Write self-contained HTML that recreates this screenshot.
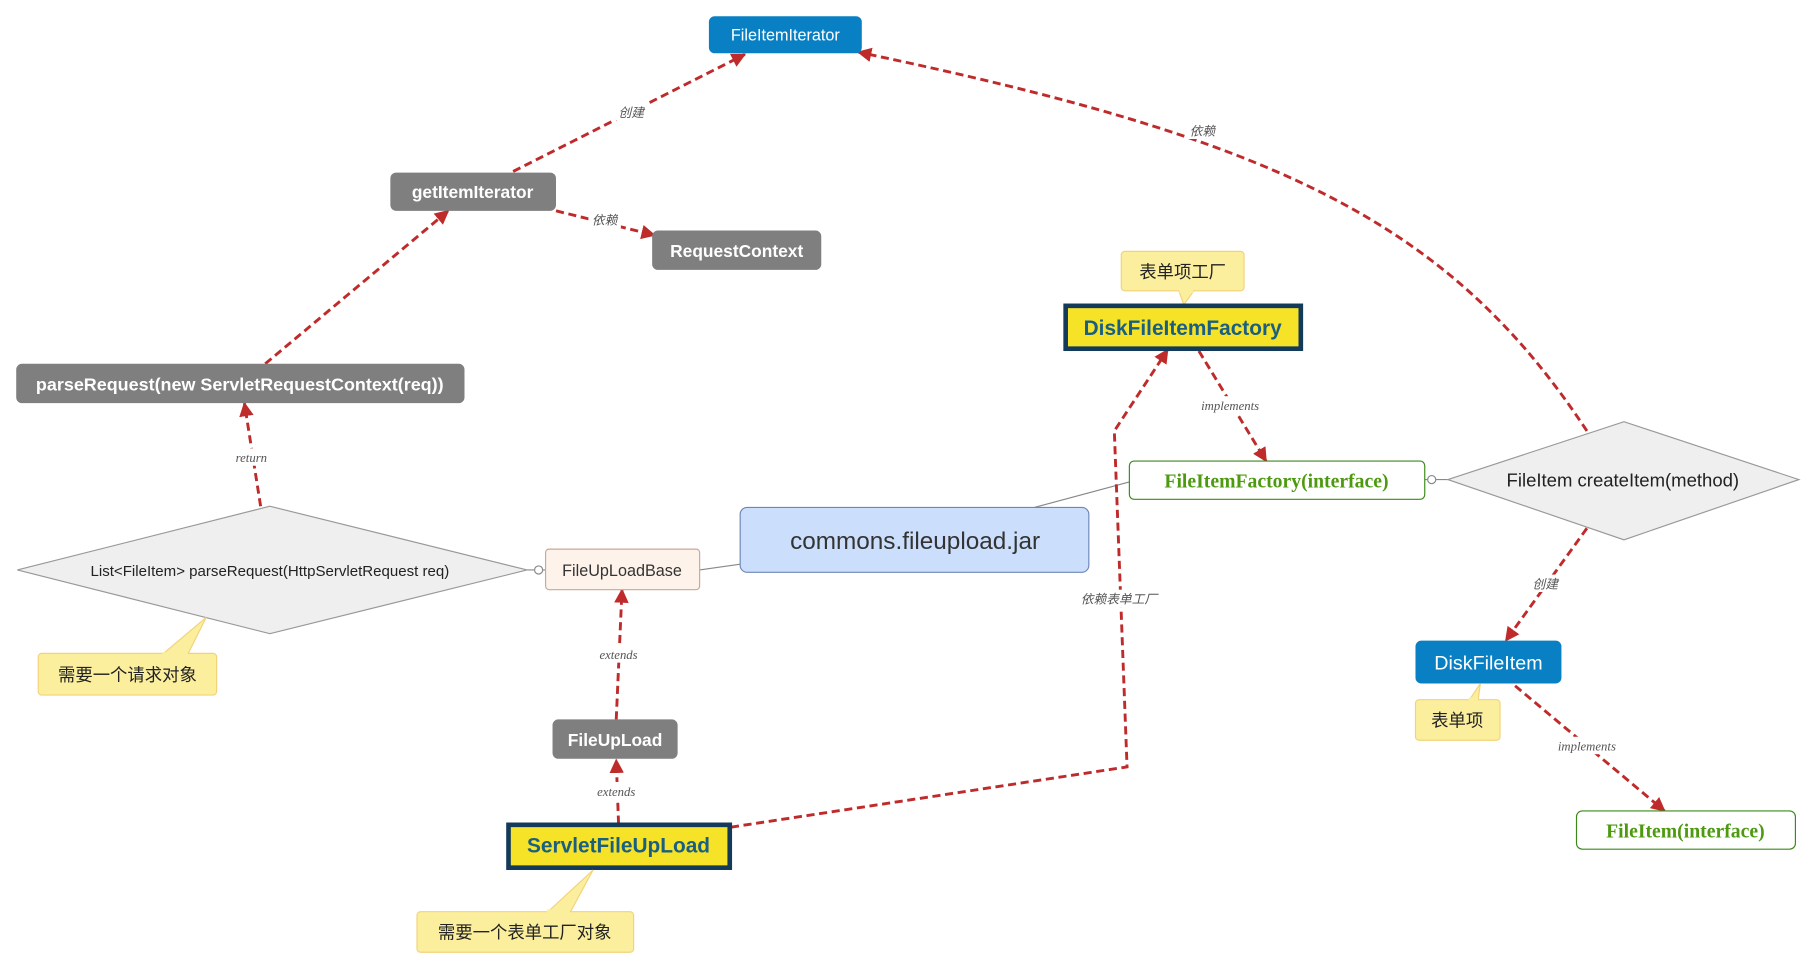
<!DOCTYPE html>
<html><head><meta charset="utf-8"><style>
html,body{margin:0;padding:0;background:#fff;}
svg{display:block;}
text{font-family:"Liberation Sans","Noto Sans CJK SC",sans-serif;}
.lbl{font-family:"Liberation Serif","Noto Sans CJK SC",serif;font-style:italic;font-size:11px;fill:#555;}
.e{fill:none;stroke:#bf2a2a;stroke-width:2.5;stroke-dasharray:7,4;marker-end:url(#ah);}
</style></head><body>
<svg width="1807" height="965" viewBox="0 0 1560 833" preserveAspectRatio="none" xmlns="http://www.w3.org/2000/svg">
<defs>
<marker id="ah" viewBox="0 0 10 10" refX="9" refY="5" markerWidth="5" markerHeight="5" orient="auto" markerUnits="strokeWidth">
<path d="M0,0 L10,5 L0,10 z" fill="#bf2a2a"/></marker>
</defs>
<line x1="604" y1="492" x2="639" y2="487" stroke="#888" stroke-width="1"/>
<line x1="893" y1="438" x2="975" y2="416" stroke="#888" stroke-width="1"/>
<line x1="455" y1="492" x2="471" y2="492" stroke="#888" stroke-width="1"/>
<line x1="1230" y1="414" x2="1250" y2="414" stroke="#888" stroke-width="1"/>
<circle cx="465" cy="492" r="3.5" fill="#fff" stroke="#888"/>
<circle cx="1236" cy="414" r="3.5" fill="#fff" stroke="#888"/>

<path class="e" d="M443,148 L643,47"/>
<path class="e" d="M1370,372 C1250,190 1100,120 741,45"/>
<path class="e" d="M480,182 L565,203"/>
<path class="e" d="M229,314 L387,182"/>
<path class="e" d="M225,437 L211,348"/>
<path class="e" d="M1035,303 L1093,398"/>
<path class="e" d="M631,714 L973,662 L962,372 L1008,302"/>
<path class="e" d="M1370,456 L1300,553"/>
<path class="e" d="M1308,592 L1437,700"/>
<path class="e" d="M532,621 L537,509"/>
<path class="e" d="M534,711 L532,656"/>

<g fill="#fff">
<rect x="531" y="89" width="28" height="15"/>
<rect x="1024" y="105" width="28" height="15"/>
<rect x="508" y="182" width="28" height="15"/>
<rect x="199" y="387" width="36" height="15"/>
<rect x="1030" y="342" width="64" height="15"/>
<rect x="928" y="509" width="76" height="15"/>
<rect x="1320" y="496" width="28" height="15"/>
<rect x="1338" y="636" width="64" height="15"/>
<rect x="513" y="557" width="42" height="15"/>
<rect x="511" y="675" width="42" height="15"/>
</g>
<g text-anchor="middle">
<text x="545" y="101" class="lbl">创建</text>
<text x="1038" y="117" class="lbl">依赖</text>
<text x="522" y="194" class="lbl">依赖</text>
<text x="217" y="399" class="lbl">return</text>
<text x="1062" y="354" class="lbl">implements</text>
<text x="966" y="521" class="lbl">依赖表单工厂</text>
<text x="1334" y="508" class="lbl">创建</text>
<text x="1370" y="648" class="lbl">implements</text>
<text x="534" y="569" class="lbl">extends</text>
<text x="532" y="687" class="lbl">extends</text>
</g>

<rect x="612" y="14" width="132" height="32" rx="5" fill="#0a80c4"/>
<text x="678" y="35" fill="#fff" font-size="14" text-anchor="middle">FileItemIterator</text>

<rect x="337" y="149" width="143" height="33" rx="5" fill="#7f7f7f"/>
<text x="408" y="171" fill="#fff" font-size="15" font-weight="bold" text-anchor="middle">getItemIterator</text>

<rect x="563" y="199" width="146" height="34" rx="5" fill="#7f7f7f"/>
<text x="636" y="222" fill="#fff" font-size="15" font-weight="bold" text-anchor="middle">RequestContext</text>

<rect x="14" y="314" width="387" height="34" rx="5" fill="#7f7f7f"/>
<text x="207" y="337" fill="#fff" font-size="15.5" font-weight="bold" text-anchor="middle">parseRequest(new ServletRequestContext(req))</text>

<polygon points="15,492 233,437 455,492 233,547" fill="#efefef" stroke="#999"/>
<text x="233" y="497" fill="#222" font-size="13" text-anchor="middle">List&lt;FileItem&gt; parseRequest(HttpServletRequest req)</text>

<polygon points="140,565 162,565 178,533" fill="#fbef9e" stroke="#f3d27a"/>
<rect x="33" y="564" width="154" height="36" rx="3" fill="#fbef9e" stroke="#f3d27a"/>
<rect x="140" y="563" width="22" height="3" fill="#fbef9e"/>
<text x="110" y="588" fill="#222" font-size="15" text-anchor="middle">需要一个请求对象</text>

<rect x="471" y="474" width="133" height="35" rx="3" fill="#fdf3ea" stroke="#c8a898"/>
<text x="537" y="497" fill="#333" font-size="14" text-anchor="middle">FileUpLoadBase</text>

<rect x="639" y="438" width="301" height="56" rx="6" fill="#cbdffd" stroke="#6f86b8"/>
<text x="790" y="474" fill="#333" font-size="21" text-anchor="middle">commons.fileupload.jar</text>

<rect x="975" y="398" width="255" height="33" rx="4" fill="#fff" stroke="#3a8a1a"/>
<text x="1102" y="421" fill="#4d9a10" font-size="17" font-weight="bold" text-anchor="middle" style="font-family:'Liberation Serif',serif">FileItemFactory(interface)</text>

<polygon points="1250,414 1402,364 1553,414 1402,466" fill="#efefef" stroke="#999"/>
<text x="1401" y="420" fill="#222" font-size="16" text-anchor="middle">FileItem createItem(method)</text>

<polygon points="1018,252 1030,252 1022,263" fill="#fbef9e" stroke="#f3d27a"/>
<rect x="968" y="217" width="106" height="34" rx="3" fill="#fbef9e" stroke="#f3d27a"/>
<rect x="1018" y="250" width="12" height="3" fill="#fbef9e"/>
<text x="1021" y="240" fill="#222" font-size="15" text-anchor="middle">表单项工厂</text>

<rect x="920" y="264" width="203" height="37" fill="#f6e227" stroke="#143a5a" stroke-width="4"/>
<text x="1021" y="289" fill="#1a5f80" font-size="18" font-weight="bold" text-anchor="middle">DiskFileItemFactory</text>

<rect x="1222" y="553" width="126" height="37" rx="5" fill="#0a80c4"/>
<text x="1285" y="578" fill="#fff" font-size="17" text-anchor="middle">DiskFileItem</text>

<polygon points="1268,605 1276,605 1278,590" fill="#fbef9e" stroke="#f3d27a"/>
<rect x="1222" y="604" width="73" height="35" rx="3" fill="#fbef9e" stroke="#f3d27a"/>
<rect x="1268" y="602" width="8" height="3" fill="#fbef9e"/>
<text x="1258" y="627" fill="#222" font-size="15" text-anchor="middle">表单项</text>

<rect x="1361" y="700" width="189" height="33" rx="5" fill="#fff" stroke="#3a8a1a"/>
<text x="1455" y="723" fill="#4d9a10" font-size="17" font-weight="bold" text-anchor="middle" style="font-family:'Liberation Serif',serif">FileItem(interface)</text>

<rect x="477" y="621" width="108" height="34" rx="5" fill="#7f7f7f"/>
<text x="531" y="644" fill="#fff" font-size="15" font-weight="bold" text-anchor="middle">FileUpLoad</text>

<rect x="439" y="712" width="191" height="37" fill="#f6e227" stroke="#143a5a" stroke-width="4"/>
<text x="534" y="736" fill="#1a5f80" font-size="18" font-weight="bold" text-anchor="middle">ServletFileUpLoad</text>

<polygon points="472,788 492,788 512,751" fill="#fbef9e" stroke="#f3d27a"/>
<rect x="360" y="787" width="187" height="35" rx="3" fill="#fbef9e" stroke="#f3d27a"/>
<rect x="472" y="785" width="20" height="3" fill="#fbef9e"/>
<text x="453" y="810" fill="#222" font-size="15" text-anchor="middle">需要一个表单工厂对象</text>
</svg>
</body></html>
